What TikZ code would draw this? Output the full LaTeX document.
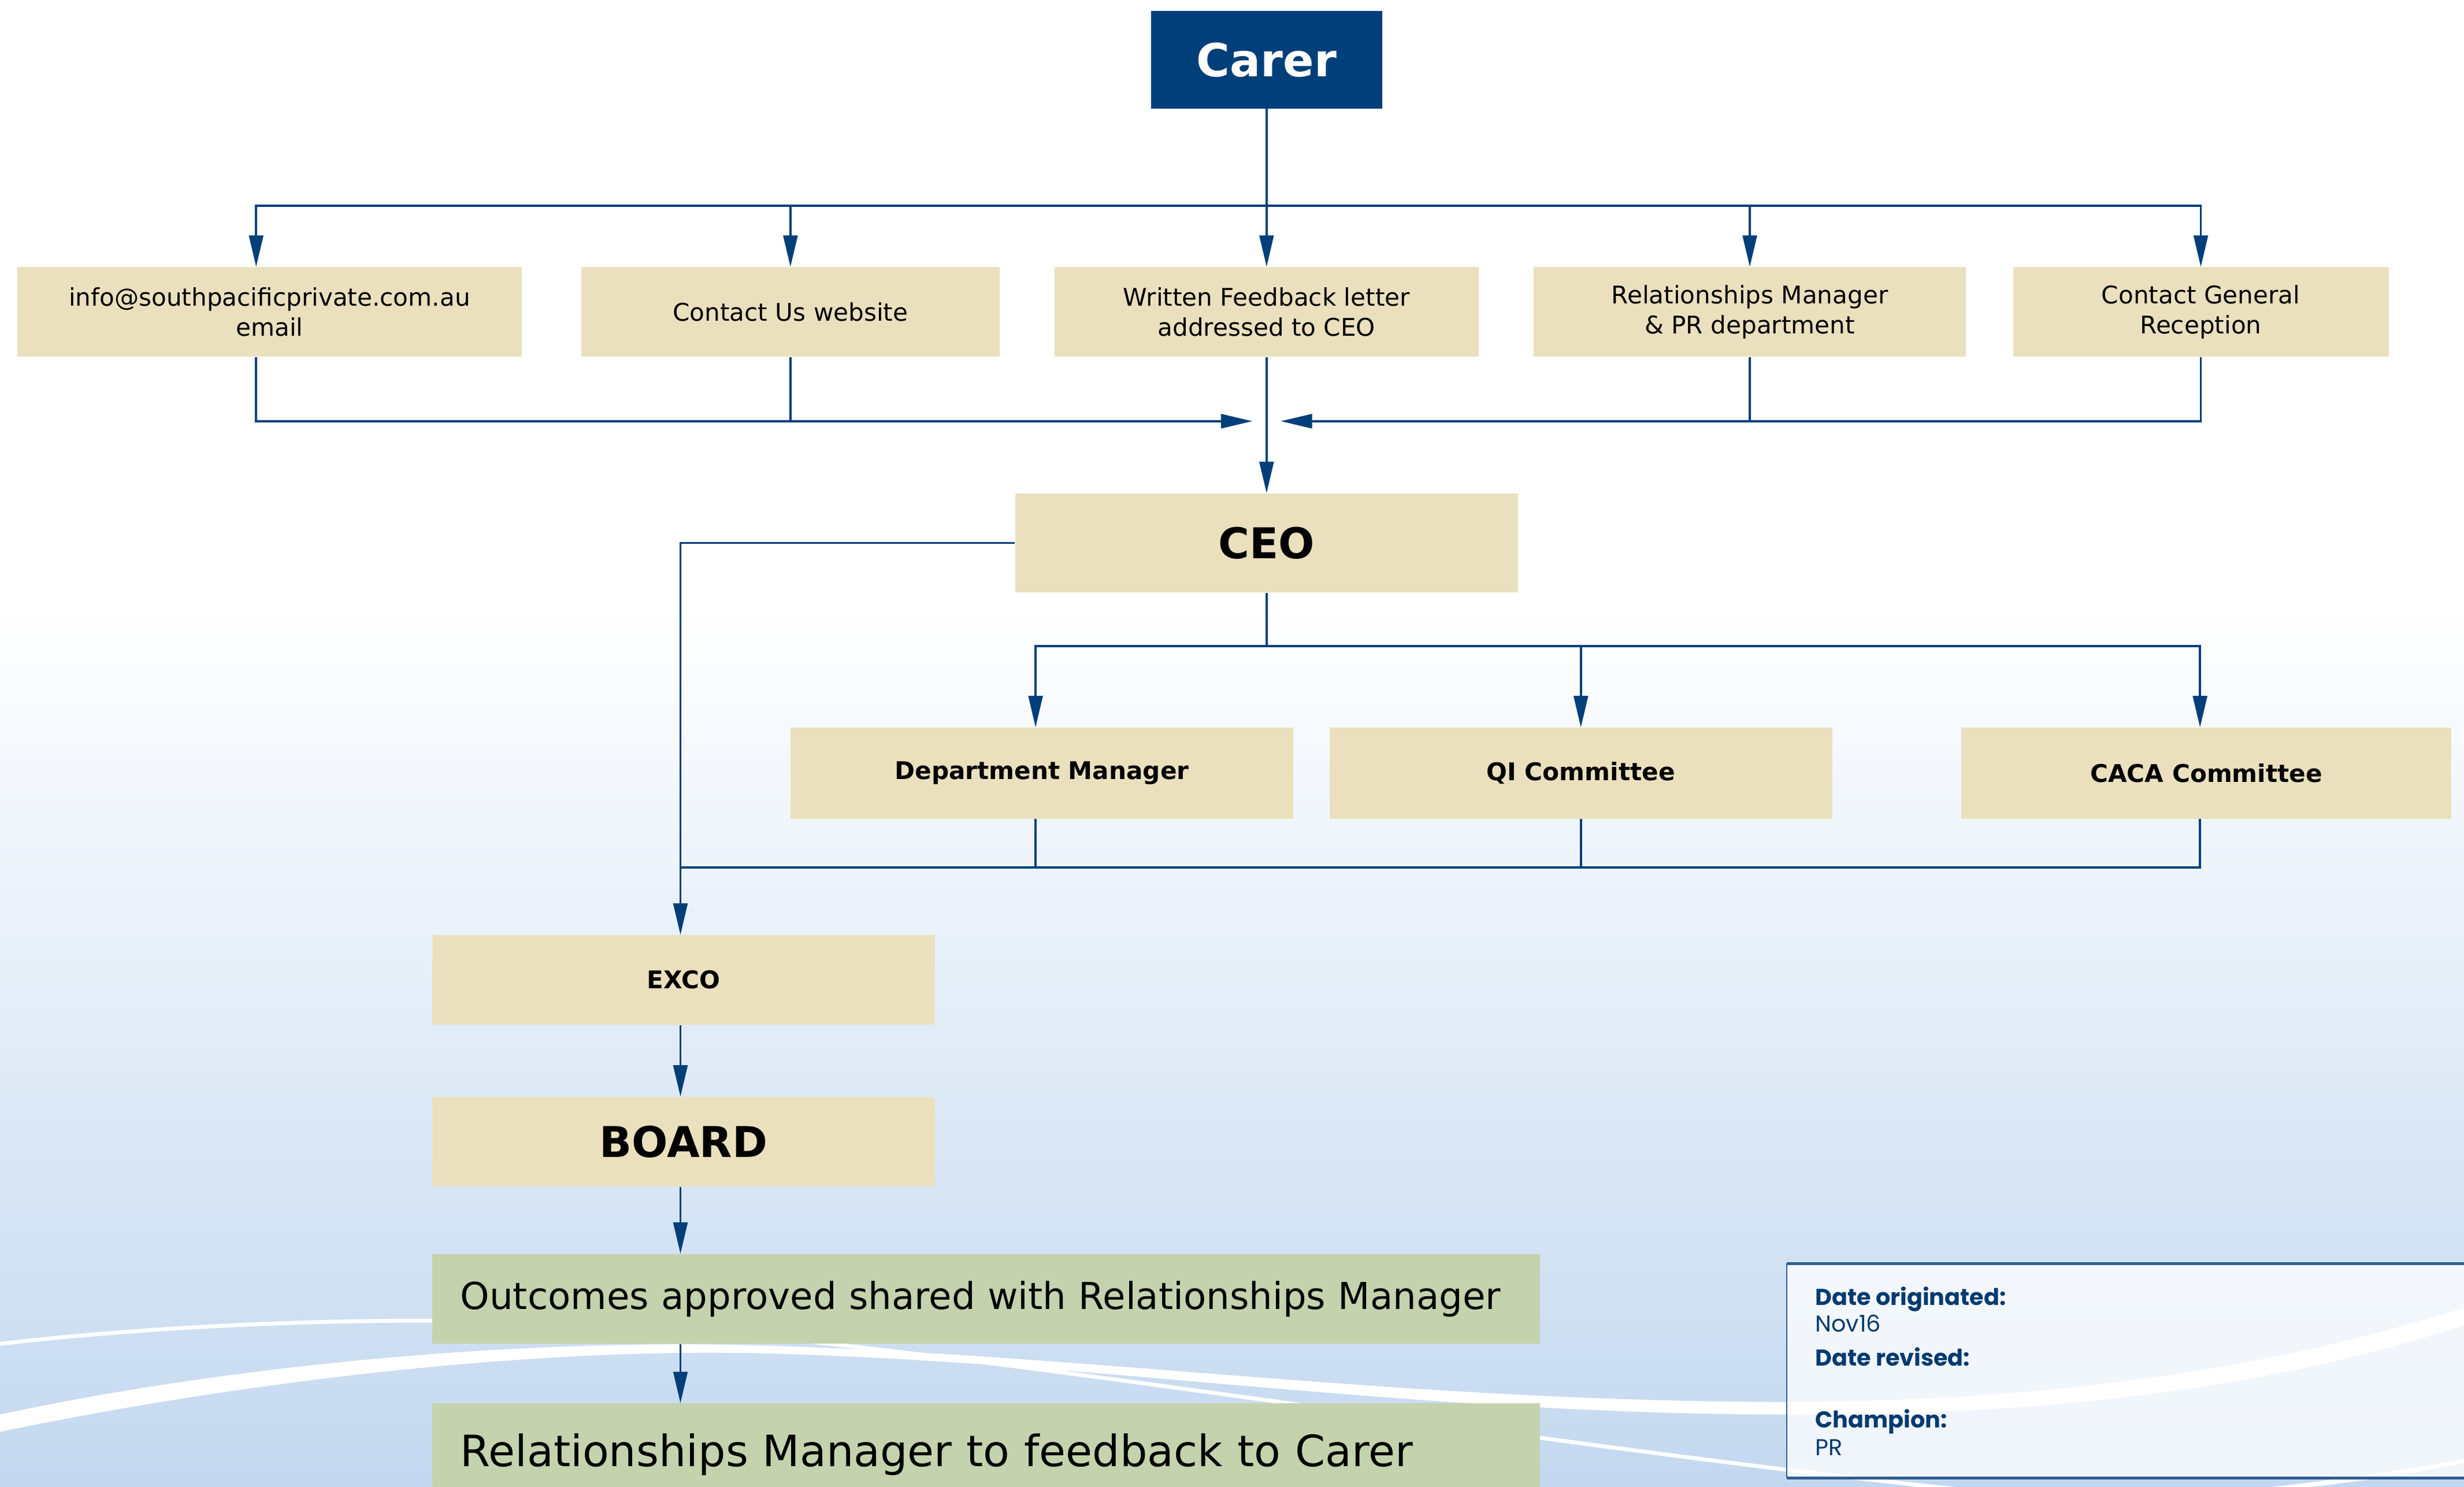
\documentclass[tikz,border=0pt]{standalone}
\usepackage{fontspec}
\setmainfont{DejaVu Sans}
\newfontfamily\panelfont{Poppins}
\usepackage{xcolor}
\usetikzlibrary{arrows.meta}
\usetikzlibrary{positioning}
\definecolor{navy}{RGB}{0,63,122}
\definecolor{sand}{RGB}{234,224,190}
\definecolor{sage}{RGB}{196,211,174}
\definecolor{skyblue}{RGB}{195,216,239}
\definecolor{rimblue}{RGB}{46,95,147}
\definecolor{inkblue}{RGB}{0,58,112}

\begin{document}
\begin{tikzpicture}[x=1pt,y=-1pt,
	wire/.style={navy,line width=1.4pt},
	arr/.style={wire,-{Triangle[length=20pt,width=9pt]}},
	box/.style={fill=sand,inner sep=0pt,minimum height=57pt,align=center,font=\fontsize{15.5}{19}\selectfont},
	headbox/.style={box,font=\bfseries\fontsize{15.5}{19}\selectfont},
	bigbox/.style={box,font=\bfseries\fontsize{27}{32}\selectfont},
	greenbox/.style={fill=sage,inner xsep=18pt,inner ysep=0pt,text width=669pt,align=left},
	wave/.style={white,line cap=round},
	panel/.style={fill=white,fill opacity=0.75,inner sep=0pt,anchor=north west},
	panelhead/.style={inkblue,anchor=base west,inner sep=0pt,font=\panelfont\bfseries\fontsize{14.6}{17}\selectfont},
	paneltxt/.style={inkblue,anchor=base west,inner sep=0pt,font=\panelfont\fontsize{14.6}{17}\selectfont}]
	\useasboundingbox (0,0) rectangle (1568,946);
	% background
	\fill[white] (0,0) rectangle (1568,386);
	\shade[top color=white,bottom color=skyblue] (0,386) rectangle (1568,946);
	\draw[wave,line width=2.5pt] (0,855) .. controls (150,838) and (330,835) .. (480,850)
		.. controls (700,872) and (1000,922) .. (1250,948);
	\fill[white] (0,900) .. controls (150,868) and (330,852) .. (480,856)
		.. controls (700,862) and (900,893) .. (1150,892)
		.. controls (1350,890) and (1480,860) .. (1568,832) -- (1568,843)
		.. controls (1480,872) and (1350,900) .. (1150,900)
		.. controls (900,901) and (700,866) .. (480,861)
		.. controls (330,858) and (150,880) .. (0,911) -- cycle;
	\draw[wave,line width=3pt] (1380,955) .. controls (1460,946) and (1520,940) .. (1575,928);
%
	\node[fill=navy,text=white,inner sep=0pt,minimum width=147pt,minimum height=62pt,
		font=\bfseries\fontsize{29}{34}\selectfont] (carer) at (806,38) {Carer};
	\node[box,minimum width=321pt] (mail) at (171.5,198.5) {info@southpacificprivate.com.au\\email};
	\node[box,minimum width=266pt] (web) at (503,198.5) {Contact Us website};
	\node[box,minimum width=270pt] (letter) at (806,198.5) {Written Feedback letter\\addressed to CEO};
	\node[box,minimum width=275pt] (rm) at (1113.5,198.5) {Relationships Manager\\\& PR department};
	\node[box,minimum width=239pt] (gen) at (1400.5,198.5) {Contact General\\Reception};
	\node[bigbox,minimum width=320pt,minimum height=63pt] (ceo) at (806,345.5) {CEO};
	\node[headbox,minimum width=320pt,minimum height=58pt] (dept) at (663,492) {Department Manager};
	\node[headbox,minimum width=320pt,minimum height=58pt] (qi) at (1006,492) {QI Committee};
	\node[headbox,minimum width=312pt,minimum height=58pt] (caca) at (1404,492) {CACA Committee};
	\node[headbox,minimum width=320pt] (exco) at (435,623.5) {EXCO};
	\node[bigbox,minimum width=320pt] (board) at (435,726.5) {BOARD};
	\node[greenbox,minimum height=57pt,font=\fontsize{23.6}{28}\selectfont] (outc) at (627.5,826.5) {Outcomes approved shared with Relationships Manager};
	\node[greenbox,minimum height=65pt,font=\fontsize{27.5}{32}\selectfont] (feedb) at (627.5,925.5) {Relationships Manager to feedback to Carer};
%
	\coordinate (mailtop) at ([xshift=-8.5pt]mail.north);
	\coordinate (mailbot) at ([xshift=-8.5pt]mail.south);
	\coordinate (depttop) at ([xshift=-4pt]dept.north);
	\coordinate (deptbot) at ([xshift=-4pt]dept.south);
	\coordinate (cacatop) at ([xshift=-4pt]caca.north);
	\coordinate (cacabot) at ([xshift=-4pt]caca.south);
	\coordinate (split) at (806,131);
	\coordinate (inL) at (797,268);
	\coordinate (inR) at (815,268);
	\coordinate (fan) at (806,411);
	\coordinate (spine) at (433,552);
	% carer to the five channels
	\draw[wire] (carer.south) -- (split);
	\draw[arr] (split) -| (mailtop);
	\draw[arr] (split) -| (web.north);
	\draw[arr] (split) -- (letter.north);
	\draw[arr] (split) -| (rm.north);
	\draw[arr] (split) -| (gen.north);
	% channels to CEO
	\draw[arr] (mailbot) |- (inL);
	\draw[wire] (web.south) -- (web.south |- inL);
	\draw[arr] (gen.south) |- (inR);
	\draw[wire] (rm.south) -- (rm.south |- inR);
	\draw[arr] (letter.south) -- (ceo.north);
	% CEO down
	\draw[arr] (ceo.west) -| (spine |- exco.north);
	\draw[wire] (ceo.south) -- (fan);
	\draw[arr] (fan) -| (depttop);
	\draw[arr] (fan) -| (qi.north);
	\draw[arr] (fan) -| (cacatop);
	\draw[wire] (cacabot) |- (spine);
	\draw[wire] (qi.south) -- (qi.south |- spine);
	\draw[wire] (deptbot) -- (deptbot |- spine);
	\draw[arr] (spine |- exco.south) -- (spine |- board.north);
	\draw[arr] (spine |- board.south) -- (spine |- outc.north);
	\draw[arr] (spine |- outc.south) -- (spine |- feedb.north);
%
	\node[panel,minimum width=450pt,minimum height=136pt] (panel) at (1137,804) {};
	\draw[rimblue,line width=2pt] (panel.north west) -- (panel.north east);
	\draw[rimblue,line width=2pt] (panel.south west) -- (panel.south east);
	\draw[rimblue,line width=0.8pt] (panel.north west) -- (panel.south west);
	\node[panelhead] (orig) at (1155,830.5) {Date originated:};
	\node[paneltxt] (origdate) at (1155,847.6) {Nov16};
	\node[panelhead] (rev) at (1155,869) {Date revised:};
	\node[panelhead] (champ) at (1155,908.6) {Champion:};
	\node[paneltxt] (champname) at (1155,926) {PR};
\end{tikzpicture}
\end{document}
